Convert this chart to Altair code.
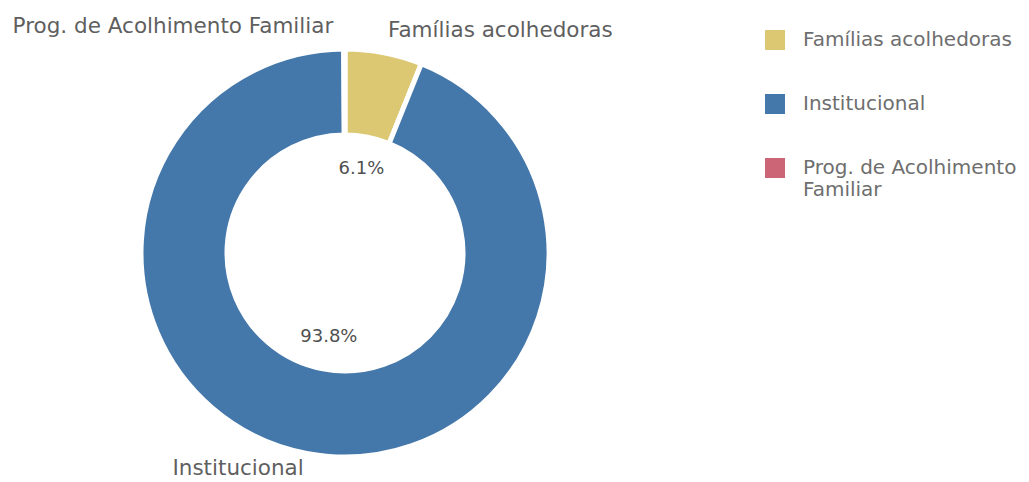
import altair as alt
import pandas as pd

categories = ["Famílias acolhedoras", "Institucional", "Prog. de Acolhimento Familiar"]
pct = [6.1, 93.8, 0.1]
order = [1, 2, 3]
colors = ["#dcc872", "#4477aa", "#cc6677"]

df = pd.DataFrame({"cat": categories, "pct": pct, "ord": order})

CX, CY = 337, 245
FONT = "DejaVu Sans"

base = alt.Chart(df).transform_window(
    cum="sum(pct)", sort=[alt.SortField("ord")], frame=[None, 0]
).transform_calculate(
    mid="datum.cum - datum.pct / 2",
    plabel="format(datum.pct, '.1f') + '%'",
)

theta_scale = alt.Scale(domain=[0, 100])

arc = base.mark_arc(outerRadius=204, innerRadius=118, stroke="white", strokeWidth=5).encode(
    theta=alt.Theta("pct:Q", stack=True, scale=theta_scale),
    color=alt.Color(
        "cat:N",
        scale=alt.Scale(domain=categories, range=colors),
        legend=alt.Legend(
            title=None,
            orient="none",
            legendX=757,
            legendY=22,
            symbolType="square",
            symbolSize=400,
            symbolStrokeWidth=0,
            symbolOpacity=1,
            labelFont=FONT,
            labelFontSize=20,
            labelColor="#6e6e6e",
            labelOffset=18,
            labelLimit=300,
            rowPadding=44,
            labelExpr="datum.label == 'Prog. de Acolhimento Familiar' ? ['Prog. de Acolhimento', 'Familiar'] : datum.label",
        ),
    ),
    order=alt.Order("ord:Q"),
    x=alt.value(CX),
    y=alt.value(CY),
)

def txt(filter_expr, radius, align, dx=0, size=21.5, field="cat", color="#5f5f5f"):
    return base.transform_filter(filter_expr).mark_text(
        radius=radius, align=align, baseline="middle", dx=dx,
        font=FONT, fontSize=size, color=color,
    ).encode(
        theta=alt.Theta("mid:Q", stack=False, scale=theta_scale),
        text=alt.Text(f"{field}:N"),
        x=alt.value(CX),
        y=alt.value(CY),
    )

inner = txt("datum.pct >= 1", 86, "center", size=18, field="plabel", color="#505050")
lab_fam = txt("datum.cat == 'Famílias acolhedoras'", 226, "left")
lab_inst = txt("datum.cat == 'Institucional'", 220, "right")
lab_prog = txt("datum.cat == 'Prog. de Acolhimento Familiar'", 226, "right", dx=-11)

chart = alt.layer(arc, inner, lab_fam, lab_inst, lab_prog).properties(
    width=1012, height=472, padding=0, autosize="none", background="white"
).configure_view(strokeWidth=0)

chart.save("out.html", embed_options={"renderer": "svg", "actions": False})
